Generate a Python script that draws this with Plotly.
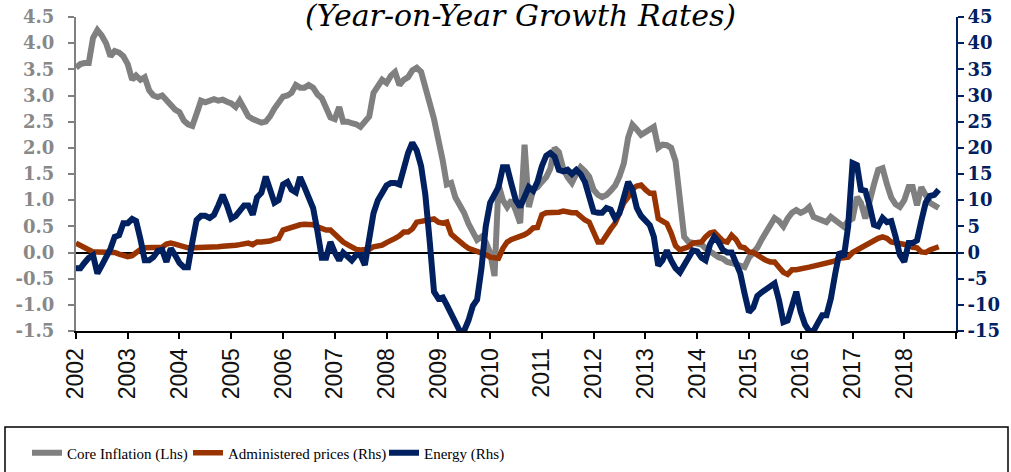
import pandas as pd
import plotly.graph_objects as go

# Monthly observations, January 2002 to September 2018
months = pd.date_range("2002-01-01", periods=201, freq="MS")

core_inflation = [
    3.53, 3.60, 3.62, 3.62, 4.10, 4.25, 4.15, 4.00, 3.75, 3.85, 3.82, 3.75,
    3.60, 3.30, 3.38, 3.30, 3.35, 3.10, 3.00, 2.97, 3.00, 2.90, 2.82, 2.73,
    2.68, 2.52, 2.45, 2.42, 2.65, 2.90, 2.87, 2.90, 2.93, 2.90, 2.92, 2.88,
    2.85, 2.78, 2.90, 2.75, 2.60, 2.55, 2.52, 2.48, 2.50, 2.60, 2.75, 2.85,
    2.98, 3.00, 3.05, 3.20, 3.15, 3.15, 3.20, 3.15, 3.02, 2.95, 2.75, 2.58,
    2.55, 2.78, 2.50, 2.50, 2.47, 2.45, 2.40, 2.50, 2.60, 3.05, 3.20, 3.30,
    3.24, 3.38, 3.45, 3.20, 3.30, 3.35, 3.48, 3.53, 3.45, 3.10, 2.85, 2.55,
    2.20, 1.75, 1.30, 1.33, 1.05, 0.90, 0.76, 0.55, 0.40, 0.24, 0.30, 0.20,
    0.00, -0.45, 1.30, 1.00, 0.87, 1.00, 0.80, 0.56, 2.06, 0.87, 1.20, 1.25,
    1.35, 1.44, 1.60, 2.00, 1.92, 1.60, 1.44, 1.33, 1.50, 1.63, 1.55, 1.45,
    1.20, 1.10, 1.06, 1.10, 1.18, 1.28, 1.45, 1.70, 2.20, 2.44, 2.35, 2.25,
    2.30, 2.34, 2.40, 2.00, 2.06, 2.05, 2.00, 1.75, 1.10, 0.30, 0.20, 0.18,
    0.18, 0.15, 0.08, 0.02, -0.05, -0.09, -0.12, -0.18, -0.20, -0.22, -0.25, -0.28,
    -0.10, 0.00, 0.09, 0.25, 0.40, 0.55, 0.66, 0.60, 0.50, 0.65, 0.76, 0.81,
    0.76, 0.80, 0.87, 0.68, 0.64, 0.62, 0.58, 0.68, 0.62, 0.56, 0.49, 0.60,
    0.65, 1.06, 0.95, 0.65, 1.00, 1.30, 1.58, 1.61, 1.30, 1.05, 0.92, 0.87,
    1.00, 1.25, 1.25, 0.90, 1.25, 1.10, 0.95, 0.90, 0.85,
]

administered_prices = [
    1.8, 1.4, 1.0, 0.5, 0.1, 0.1, 0.1, 0.2, 0.1, 0.0, -0.3, -0.5,
    -0.8, -0.6, 0.1, 0.6, 0.9, 0.9, 0.9, 0.9, 1.0, 1.6, 1.8, 1.6,
    1.4, 1.0, 0.9, 0.9, 0.9, 1.0, 1.1, 1.1, 1.1, 1.1, 1.2, 1.2,
    1.3, 1.4, 1.5, 1.7, 1.8, 1.5, 2.0, 2.0, 2.0, 2.2, 2.5, 2.7,
    4.3, 4.6, 4.7, 5.0, 5.3, 5.4, 5.4, 5.3, 4.9, 4.6, 4.3, 4.3,
    3.4, 2.8, 2.0, 1.5, 1.0, 0.6, 0.5, 0.5, 0.6, 1.1, 1.2, 1.4,
    1.9, 2.2, 2.7, 3.2, 3.9, 3.9, 4.5, 5.8, 6.0, 6.2, 6.3, 6.4,
    5.8, 5.6, 5.8, 3.5, 2.8, 2.0, 1.4, 0.8, 0.5, 0.3, 0.0, -0.4,
    -0.9, -1.0, -1.1, 0.8, 2.0, 2.5, 2.8, 3.0, 3.4, 3.9, 4.7, 4.8,
    7.2, 7.6, 7.6, 7.7, 7.7, 7.9, 7.7, 7.6, 7.6, 6.8, 6.2, 5.8,
    3.7, 2.0, 2.0, 3.5, 4.5, 5.6, 7.5, 9.5, 10.6, 12.2, 12.7, 12.9,
    12.0, 11.3, 11.3, 6.5, 6.0, 5.5, 3.7, 1.3, 0.5, 0.8, 1.1, 1.8,
    2.0, 2.0, 3.0, 3.7, 3.9, 3.0, 2.2, 2.0, 3.3, 2.5, 1.1, 0.9,
    0.1, 0.0, -0.5, -0.9, -1.5, -1.8, -1.8, -2.8, -3.8, -4.2, -3.3, -3.3,
    -3.2, -3.0, -2.8, -2.6, -2.4, -2.1, -2.0, -1.9, -1.6, -1.1, -1.0, -0.9,
    0.0, 0.5, 1.0, 1.4, 2.0, 2.4, 2.7, 3.0, 2.7, 2.0, 1.9, 1.8,
    1.6, 1.4, 1.0, 0.9, 0.1, 0.0, 0.5, 0.8, 1.1,
]

energy = [
    -3.0, -3.0, -2.0, -1.0, -0.5, -4.0, -2.5, -0.8, 0.7, 3.0, 3.3, 5.6,
    5.6, 6.4, 6.0, 2.5, -1.5, -1.5, -0.9, 0.3, 0.5, -1.8, 0.8, -0.5,
    -2.0, -2.8, -2.8, 2.0, 6.2, 7.0, 7.0, 6.6, 7.2, 9.0, 11.0, 9.0,
    6.5, 7.0, 7.8, 9.0, 9.0, 7.2, 10.5, 11.4, 14.5, 11.8, 9.5, 10.0,
    13.0, 13.5, 12.0, 11.5, 14.4, 12.5, 10.5, 8.5, 4.0, -1.0, -1.0, 2.0,
    0.0, -1.5, 0.0, -0.9, -1.5, -0.5, -0.5, -2.4, 3.0, 7.5, 10.0, 11.5,
    12.8, 13.3, 13.3, 13.0, 16.3, 19.0, 21.0, 19.5, 16.5, 11.0, 2.0, -7.5,
    -8.8, -8.6, -10.0, -11.8, -13.0, -15.0, -15.0, -13.0, -10.2, -9.0, -3.0, 5.0,
    9.5, 11.3, 12.5, 16.3, 16.3, 13.0, 10.0, 8.7, 11.0, 12.5, 11.8, 13.5,
    16.5, 18.5, 19.0, 18.3, 15.8, 15.5, 15.8, 15.0, 15.8, 15.0, 13.5, 10.5,
    7.8, 7.6, 7.6, 8.5, 8.2, 6.5, 7.5, 10.5, 13.5, 12.0, 8.5, 7.0,
    6.0, 5.2, 3.0, -2.5, -1.5, 0.4, -1.5, -3.0, -3.8, -2.5, -0.8, 0.4,
    0.2, -1.0, -1.5, 1.5, 3.0, 2.0, 0.5, 0.0, 0.0, -2.0, -4.0, -7.8,
    -11.4, -10.5, -8.3, -7.6, -7.0, -6.4, -5.9, -9.1, -13.3, -13.0, -10.0, -7.5,
    -11.3, -13.8, -15.0, -15.0, -13.5, -12.0, -12.0, -8.8, -4.0, 0.1, -0.8, 5.0,
    17.1, 16.7, 12.0, 11.8, 9.0, 5.3, 5.0, 6.6, 5.8, 6.0, 3.0, -0.5,
    -1.8, 1.8, 1.8, 2.3, 6.0, 9.5, 10.8, 11.0, 12.0,
]

series_names = ["Core Inflation (Lhs)", "Administered prices (Rhs)", "Energy (Rhs)"]

# Axis ticks
year_ticks = [f"{y}-01-01" for y in range(2002, 2020)]
year_labels = [str(y) for y in range(2002, 2019)] + [""]
lhs_ticks = [-1.5, -1.0, -0.5, 0.0, 0.5, 1.0, 1.5, 2.0, 2.5, 3.0, 3.5, 4.0, 4.5]
lhs_labels = ["-1.5", "-1.0", "-0.5", "0.0", "0.5", "1.0", "1.5", "2.0",
              "2.5", "3.0", "3.5", "4.0", "4.5"]
rhs_ticks = [-15, -10, -5, 0, 5, 10, 15, 20, 25, 30, 35, 40, 45]
rhs_labels = ["-15", "-10", "-5", "0", "5", "10", "15", "20", "25", "30",
              "35", "40", "45"]

GRAY = "#808080"
RUST = "#993300"
NAVY = "#002060"

W, H = 1011, 472
ML, MR, MT, MB = 76, 55, 17, 141
PW, PH = W - ML - MR, H - MT - MB


def px_x(p):
    return (p - ML) / PW


def px_y(p):
    return (H - MB - p) / PH


fig = go.Figure()
fig.add_trace(go.Scatter(
    x=months, y=core_inflation, name=series_names[0], mode="lines",
    line=dict(color=GRAY, width=6), yaxis="y", legend="legend",
))
fig.add_trace(go.Scatter(
    x=months, y=administered_prices, name=series_names[1], mode="lines",
    line=dict(color=RUST, width=5.5), yaxis="y2", legend="legend2",
))
fig.add_trace(go.Scatter(
    x=months, y=energy, name=series_names[2], mode="lines",
    line=dict(color=NAVY, width=6), yaxis="y2", legend="legend3",
))


def legend_at(px_left):
    return dict(
        orientation="h", yanchor="middle", y=px_y(453), xanchor="left", x=px_x(px_left),
        font=dict(family="Liberation Serif", size=15, color="#000000"),
        bgcolor="rgba(0,0,0,0)", borderwidth=0, itemwidth=30,
    )


fig.update_layout(
    width=W, height=H,
    margin=dict(l=ML, r=MR, t=MT, b=MB, autoexpand=False),
    paper_bgcolor="white", plot_bgcolor="white",
    showlegend=True,
    legend=legend_at(27),
    legend2=legend_at(188),
    legend3=legend_at(384),
    xaxis=dict(
        type="date", range=["2002-01-01", "2019-01-01"],
        tickmode="array", tickvals=year_ticks, ticktext=year_labels,
        tickangle=-90, ticks="outside", ticklen=6, tickwidth=1.5, tickcolor="#000000",
        showline=True, linecolor="#000000", linewidth=2, showgrid=False, zeroline=False,
        tickfont=dict(family="Liberation Sans", size=23, color="#111111"),
    ),
    yaxis=dict(
        range=[-1.5, 4.5], tickmode="array", tickvals=lhs_ticks, ticktext=lhs_labels,
        ticks="outside", ticklen=6, tickwidth=1.5, tickcolor=GRAY,
        showline=True, linecolor=GRAY, linewidth=2, showgrid=False,
        zeroline=True, zerolinecolor="#000000", zerolinewidth=1.5,
        ticklabelstandoff=10,
        tickfont=dict(family="DejaVu Serif", size=18, color="#888888", weight="bold"),
    ),
    yaxis2=dict(
        range=[-15, 45], overlaying="y", side="right",
        tickmode="array", tickvals=rhs_ticks, ticktext=rhs_labels,
        ticks="outside", ticklen=6, tickwidth=1.5, tickcolor=NAVY,
        showline=True, linecolor=NAVY, linewidth=2, showgrid=False, zeroline=False,
        tickfont=dict(family="DejaVu Serif", size=18, color=NAVY, weight="bold"),
    ),
    annotations=[dict(
        text="(Year-on-Year Growth Rates)", xref="paper", yref="paper",
        x=px_x(520), y=px_y(15), xanchor="center", yanchor="middle", showarrow=False,
        font=dict(family="DejaVu Serif", size=30, color="#000000", style="italic"),
    )],
    shapes=[dict(
        type="rect", xref="paper", yref="paper",
        x0=px_x(5), x1=px_x(1008), y0=px_y(427), y1=px_y(480),
        line=dict(color="#000000", width=1.5), fillcolor="rgba(0,0,0,0)", layer="below",
    )],
)

fig.write_html("out.html")
